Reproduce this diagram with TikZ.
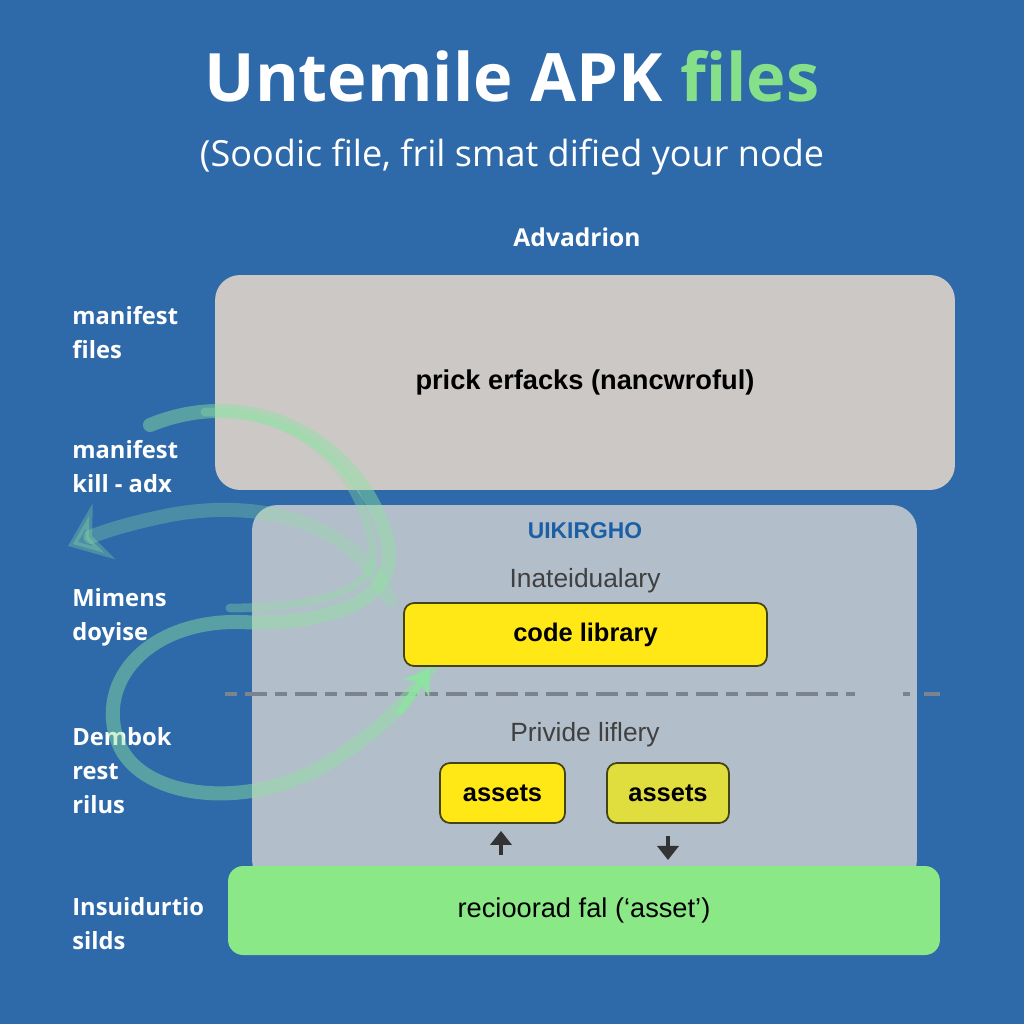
\documentclass[tikz,border=0pt]{standalone}
\usepackage{fontspec}
\setmainfont{Open Sans}
\newfontfamily\boxfont{Liberation Sans}
\usetikzlibrary{positioning,arrows.meta}
\definecolor{apkbg}{HTML}{2E69A9}
\definecolor{apkgray}{HTML}{CBC8C5}
\definecolor{apkslate}{HTML}{B2BECA}
\definecolor{apkyellow}{HTML}{FFE815}
\definecolor{apkolive}{HTML}{E0DE3E}
\definecolor{apkgreen}{HTML}{8AE886}
\definecolor{apklime}{HTML}{86E08A}
\definecolor{apkink}{HTML}{1D5FA5}
\definecolor{apkdash}{HTML}{7A838E}
\definecolor{apkswirl}{HTML}{8FE3A2}
\tikzset{
  sidelabel/.style={anchor=north west, inner sep=0pt, align=left, text=white,
    font=\fontsize{13.5}{19.5}\selectfont\bfseries},
  panelbox/.style={rounded corners=0.5cm, inner sep=0pt},
  chipbox/.style={draw=black!70!apkolive, line width=1pt, rounded corners=0.2cm, inner sep=0pt,
    font=\boxfont\fontsize{14.5}{16}\selectfont\bfseries},
  paneltext/.style={font=\boxfont\fontsize{15}{18}\selectfont, text=black!75},
  swirl/.style={apkswirl, line width=8pt, draw opacity=0.45, line cap=round},
  tiparrow/.style={-{Triangle[length=8pt, width=12pt]}, line width=2.4pt, black!80},
}

\begin{document}
\begin{tikzpicture}[x=0.02cm, y=-0.02cm]
  \fill[apkbg] (0,0) rectangle (1024,1024);
  \useasboundingbox (0,0) rectangle (1024,1024);
  % heading
  \node[anchor=base, text=white, font=\fontsize{38}{40}\selectfont\bfseries] (title) at (512,102)
    {Untemile APK \textcolor{apklime}{files}};
  \node[anchor=base, text=white, font=\fontsize{20.5}{24}\selectfont] (subtitle) at (512,166)
    {(Soodic file, fril smat dified your node};
  \node[anchor=base, text=white, font=\fontsize{14}{16}\selectfont\bfseries] (advadrion) at (577,246) {Advadrion};
  % side labels
  \node[sidelabel] (side1) at (72,306) {manifest\\files};
  \node[sidelabel] (side2) at (72,440) {manifest\\kill - adx};
  \node[sidelabel] (side3) at (72,588) {Mimens\\doyise};
  \node[sidelabel] (side4) at (72,727) {Dembok\\rest\\rilus};
  \node[sidelabel] (side5) at (72,897) {Insuidurtio\\silds};
  % panels
  \node[panelbox, fill=apkgray, minimum width=14.8cm, minimum height=4.3cm,
    font=\boxfont\fontsize{15.5}{18}\selectfont\bfseries] (prick) at (585,382.5) {prick erfacks (nancwroful)};
  \node[panelbox, fill=apkslate, minimum width=13.3cm, minimum height=7.6cm] (middle) at (584.5,695) {};
  \node[anchor=base, text=apkink, font=\boxfont\fontsize{13}{15}\selectfont\bfseries] (uikirgho) at (585,538) {UIKIRGHO};
  \node[anchor=base, paneltext] (inateid) at (585,587) {Inateidualary};
  \node[anchor=base, paneltext] (privide) at (585,741) {Privide liflery};
  % divider
  \draw[apkdash, line width=2.3pt, dash pattern=on 7pt off 4.5pt on 12.5pt off 4.5pt] (225,694) -- (855,694);
  \draw[apkdash, line width=2.3pt, dash pattern=on 4pt off 8pt on 12pt off 4pt] (903,694) -- (940,694);
  % swirls
  \coordinate (swirlstart) at (150,425);
  \coordinate (swirltip) at (430,668);
  \coordinate (swirlback) at (390,600);
  \coordinate (swirlleft) at (68,546);
  \draw[swirl] (swirlstart) .. controls (260,380) and (365,450) .. (387,540)
    .. controls (402,600) and (330,626) .. (240,622)
    .. controls (150,620) and (95,680) .. (118,742)
    .. controls (140,800) and (250,812) .. (330,762)
    .. controls (380,730) and (405,705) .. (swirltip);
  \draw[swirl, line width=5pt, draw opacity=0.35] (205,412) .. controls (300,410) and (360,470) .. (372,545)
    .. controls (382,590) and (320,608) .. (230,608);
  \draw[swirl, opacity=0.3, -{Stealth[length=22pt, width=34pt]}] (swirlback)
    .. controls (350,515) and (250,500) .. (170,515)
    .. controls (125,524) and (100,533) .. (swirlleft);
  \draw[swirl, line width=4pt, draw opacity=0.9, -{Stealth[length=14pt, width=18pt]}]
    (400,712) -- (swirltip);
  % chips
  \node[chipbox, fill=apkyellow, minimum width=7.26cm, minimum height=1.26cm] (codelib) at (585.5,634.5) {code library};
  \node[chipbox, fill=apkyellow, minimum width=2.5cm, minimum height=1.2cm] (assetsl) at (502.5,793) {assets};
  \node[chipbox, fill=apkolive, minimum width=2.44cm, minimum height=1.2cm] (assetsr) at (668,793) {assets};
  \coordinate (uptail) at (501,855);
  \coordinate (downtip) at (668,860);
  \draw[tiparrow, shorten >=4pt] (uptail) -- (assetsl.south -| uptail);
  \draw[tiparrow, shorten <=7pt] (assetsr.south) -- (downtip);
  % bottom bar
  \node[rounded corners=0.3cm, fill=apkgreen, minimum width=14.24cm, minimum height=1.78cm,
    font=\boxfont\fontsize{15.5}{18}\selectfont] (recioorad) at (584,910.5) {recioorad fal (\textquoteleft asset\textquoteright)};
\end{tikzpicture}
\end{document}
